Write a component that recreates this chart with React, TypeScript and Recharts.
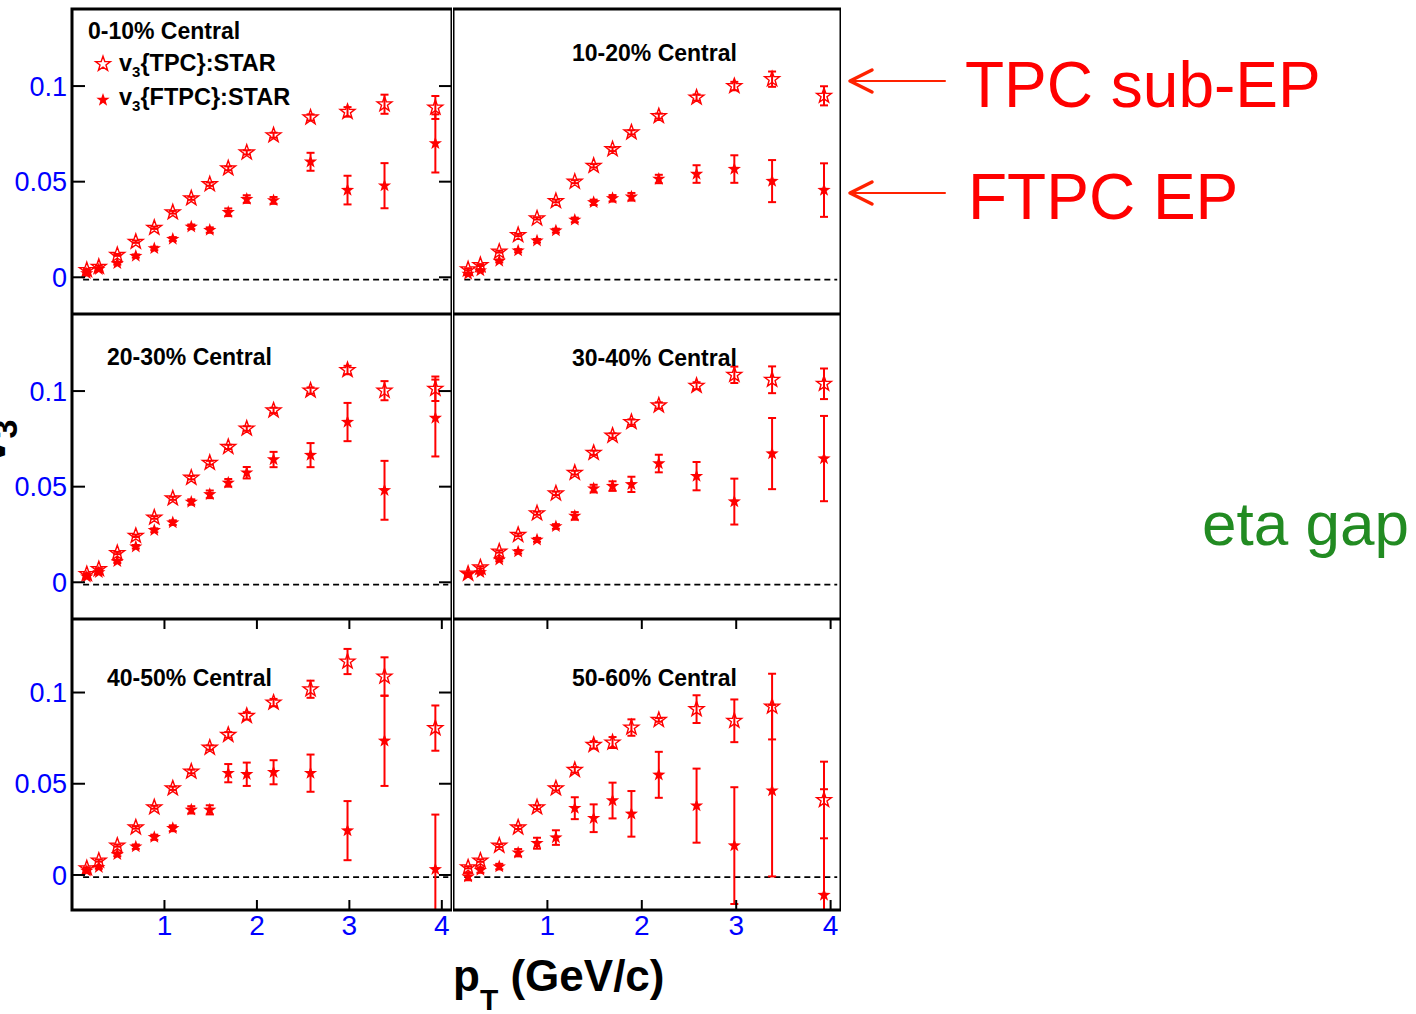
import React from "react";
import {
  ScatterChart,
  Scatter,
  XAxis,
  YAxis,
  ErrorBar,
  ReferenceArea,
  ReferenceLine,
} from "recharts";

// pT bin centres (GeV/c), shared by every panel
const PT = [0.16, 0.29, 0.49, 0.69, 0.89, 1.09, 1.29, 1.49, 1.69, 1.89, 2.18, 2.58, 2.98, 3.38, 3.93];

const X_TICKS = [1, 2, 3, 4];
const Y_TICKS = [0, 0.05, 0.1];

const CENTRALITY = ["0-10%", "10-20%", "20-30%", "30-40%", "40-50%", "50-60%"];

// v3{TPC} (open stars) and v3{FTPC} (filled stars)
const TPC_0_10 = [0.0038, 0.0055, 0.0117, 0.0186, 0.0259, 0.034, 0.0413, 0.0487, 0.057, 0.0653, 0.0743, 0.0836, 0.0865, 0.0905, 0.0888];
const TPC_ERR_0_10 = [0.0005, 0.0005, 0.0005, 0.0006, 0.0006, 0.0007, 0.0008, 0.0009, 0.001, 0.0011, 0.0013, 0.0016, 0.0025, 0.005, 0.006];
const FTPC_0_10 = [0.002, 0.0042, 0.0073, 0.0111, 0.0151, 0.02, 0.0264, 0.0247, 0.034, 0.0409, 0.0402, 0.0604, 0.0456, 0.0479, 0.07];
const FTPC_ERR_0_10 = [0.0006, 0.0006, 0.0007, 0.0008, 0.0009, 0.001, 0.0012, 0.0014, 0.002, 0.002, 0.0018, 0.0047, 0.0075, 0.0118, 0.0152];

const TPC_10_20 = [0.0042, 0.0064, 0.0134, 0.0221, 0.0308, 0.0399, 0.05, 0.0583, 0.067, 0.0758, 0.0843, 0.094, 0.1, 0.1036, 0.0949];
const TPC_ERR_10_20 = [0.0005, 0.0005, 0.0005, 0.0006, 0.0006, 0.0007, 0.0008, 0.0009, 0.001, 0.0011, 0.0013, 0.0016, 0.0022, 0.004, 0.005];
const FTPC_10_20 = [0.0017, 0.0035, 0.0085, 0.0139, 0.0191, 0.0244, 0.03, 0.0392, 0.0413, 0.0421, 0.0514, 0.054, 0.0566, 0.0503, 0.0456];
const FTPC_ERR_10_20 = [0.0006, 0.0006, 0.0007, 0.0008, 0.0009, 0.001, 0.0012, 0.0014, 0.0017, 0.002, 0.0022, 0.0046, 0.0072, 0.011, 0.014];

const TPC_20_30 = [0.0043, 0.0069, 0.0153, 0.0243, 0.0339, 0.0439, 0.0547, 0.0625, 0.0708, 0.0804, 0.0899, 0.1003, 0.111, 0.1002, 0.1012];
const TPC_ERR_20_30 = [0.0005, 0.0005, 0.0006, 0.0006, 0.0007, 0.0008, 0.0009, 0.001, 0.0011, 0.0012, 0.0014, 0.0016, 0.0022, 0.005, 0.0064];
const FTPC_20_30 = [0.0029, 0.0052, 0.0109, 0.0186, 0.0272, 0.0312, 0.042, 0.046, 0.052, 0.0573, 0.0642, 0.0665, 0.0838, 0.0481, 0.0859];
const FTPC_ERR_20_30 = [0.0006, 0.0006, 0.0008, 0.0009, 0.001, 0.0012, 0.0014, 0.002, 0.002, 0.003, 0.004, 0.0063, 0.01, 0.0154, 0.0201];

const TPC_30_40 = [0.0045, 0.0078, 0.0161, 0.0248, 0.0361, 0.0465, 0.0573, 0.0677, 0.0767, 0.0838, 0.0925, 0.1028, 0.1085, 0.1059, 0.1038];
const TPC_ERR_30_40 = [0.0005, 0.0006, 0.0006, 0.0007, 0.0008, 0.0009, 0.001, 0.0011, 0.0012, 0.0014, 0.0016, 0.0018, 0.0043, 0.007, 0.008];
const FTPC_30_40 = [0.0043, 0.0052, 0.0118, 0.016, 0.0222, 0.0292, 0.0347, 0.049, 0.0503, 0.0512, 0.0621, 0.0555, 0.0422, 0.0673, 0.0647];
const FTPC_ERR_30_40 = [0.0006, 0.0007, 0.0008, 0.0009, 0.001, 0.0012, 0.002, 0.002, 0.0025, 0.004, 0.0046, 0.0074, 0.012, 0.0186, 0.0223];

const TPC_40_50 = [0.0037, 0.0079, 0.0161, 0.0261, 0.0371, 0.0475, 0.0567, 0.0698, 0.0768, 0.0872, 0.0945, 0.1018, 0.117, 0.1088, 0.0805];
const TPC_ERR_40_50 = [0.0005, 0.0006, 0.0006, 0.0007, 0.0008, 0.0009, 0.001, 0.0012, 0.0015, 0.002, 0.002, 0.0047, 0.0069, 0.0105, 0.0124];
const FTPC_40_50 = [0.0022, 0.0042, 0.0113, 0.0155, 0.0207, 0.0256, 0.0357, 0.0357, 0.0558, 0.0552, 0.0563, 0.0558, 0.0243, 0.0735, 0.0031];
const FTPC_ERR_40_50 = [0.0007, 0.0008, 0.001, 0.0012, 0.0014, 0.0016, 0.002, 0.0025, 0.005, 0.0064, 0.0066, 0.0102, 0.0162, 0.0247, 0.03];

const TPC_50_60 = [0.0042, 0.0079, 0.0161, 0.0261, 0.0371, 0.0475, 0.0576, 0.0713, 0.0726, 0.0808, 0.085, 0.0909, 0.0845, 0.0923, 0.0411];
const TPC_ERR_50_60 = [0.0006, 0.0007, 0.0008, 0.0009, 0.001, 0.0012, 0.0015, 0.002, 0.003, 0.0045, 0.001, 0.0076, 0.0117, 0.018, 0.021];
const FTPC_50_60 = [-0.0009, 0.0027, 0.0046, 0.0122, 0.0174, 0.0205, 0.0366, 0.0311, 0.0408, 0.0335, 0.0549, 0.038, 0.0161, 0.0462, -0.011];
const FTPC_ERR_50_60 = [0.002, 0.0015, 0.0015, 0.002, 0.003, 0.004, 0.006, 0.0076, 0.0098, 0.0125, 0.0126, 0.0203, 0.032, 0.047, 0.058];

const PANELS = [
  { tpc: TPC_0_10, tpcErr: TPC_ERR_0_10, ftpc: FTPC_0_10, ftpcErr: FTPC_ERR_0_10 },
  { tpc: TPC_10_20, tpcErr: TPC_ERR_10_20, ftpc: FTPC_10_20, ftpcErr: FTPC_ERR_10_20 },
  { tpc: TPC_20_30, tpcErr: TPC_ERR_20_30, ftpc: FTPC_20_30, ftpcErr: FTPC_ERR_20_30 },
  { tpc: TPC_30_40, tpcErr: TPC_ERR_30_40, ftpc: FTPC_30_40, ftpcErr: FTPC_ERR_30_40 },
  { tpc: TPC_40_50, tpcErr: TPC_ERR_40_50, ftpc: FTPC_40_50, ftpcErr: FTPC_ERR_40_50 },
  { tpc: TPC_50_60, tpcErr: TPC_ERR_50_60, ftpc: FTPC_50_60, ftpcErr: FTPC_ERR_50_60 },
];

// layout
const X_DOMAIN: [number, number] = [0, 4.11];
const Y_DOMAIN: [number, number] = [-0.0192, 0.1403];
const COL_LEFT = [72, 453];
const COL_WIDTH = [380, 388];
const ROW_TOP = [9, 314, 619];
const ROW_HEIGHT = [305, 305, 291];
const Y_AXIS_W = 72;
const X_AXIS_H = 40;
const RED = "#ff0000";
const BLUE = "#0000ff";
const FONT = "'Liberation Sans', Arial, Helvetica, sans-serif";

// label positions (page coords) for the centrality tags
const LABEL_POS = [
  [88, 39],
  [572, 61],
  [107, 365],
  [572, 366],
  [107, 686],
  [572, 686],
];

function starPath(cx: number, cy: number, R: number) {
  const r = R * 0.4;
  let d = "";
  for (let i = 0; i < 10; i++) {
    const rad = i % 2 === 0 ? R : r;
    const a = -Math.PI / 2 + (i * Math.PI) / 5;
    d += (i === 0 ? "M" : "L") + (cx + rad * Math.cos(a)).toFixed(2) + "," + (cy + rad * Math.sin(a)).toFixed(2);
  }
  return d + "Z";
}

const openStar = (p: any) => (
  <path d={starPath(p.cx, p.cy, 7.8)} fill="none" stroke={RED} strokeWidth={1.4} />
);
const filledStar = (p: any) => <path d={starPath(p.cx, p.cy, 7)} fill={RED} stroke="none" />;

const XTick = (props: any) => {
  const { x, y, payload, plotH, showLabel } = props;
  return (
    <g>
      <line x1={x} y1={y} x2={x} y2={y - 10} stroke="#000" strokeWidth={2} />
      <line x1={x} y1={y - plotH} x2={x} y2={y - plotH + 10} stroke="#000" strokeWidth={2} />
      {showLabel && (
        <text x={x} y={y + 25} textAnchor="middle" fill={BLUE} fontSize={28} fontFamily={FONT}>
          {payload.value}
        </text>
      )}
    </g>
  );
};

const YTick = (props: any) => {
  const { x, y, payload, plotW, showLabel } = props;
  return (
    <g>
      <line x1={x} y1={y} x2={x + 13} y2={y} stroke="#000" strokeWidth={2} />
      <line x1={x + plotW - 13} y1={y} x2={x + plotW} y2={y} stroke="#000" strokeWidth={2} />
      {showLabel && (
        <text x={x - 5} y={y} dy="0.36em" textAnchor="end" fill={BLUE} fontSize={27} fontFamily={FONT}>
          {payload.value}
        </text>
      )}
    </g>
  );
};

const Panel = ({ idx }: { idx: number }) => {
  const row = Math.floor(idx / 2);
  const col = idx % 2;
  const p = PANELS[idx];
  const tpcData = PT.map((x, i) => ({ x, y: p.tpc[i], err: p.tpcErr[i] }));
  const ftpcData = PT.map((x, i) => ({ x, y: p.ftpc[i], err: p.ftpcErr[i] }));

  const plotW = COL_WIDTH[col];
  const plotH = ROW_HEIGHT[row];
  const yW = col === 0 ? Y_AXIS_W : 0;
  const xH = row === 2 ? X_AXIS_H : 0;
  const marginTop = row === 0 ? ROW_TOP[0] : 0;

  return (
    <>
      {/* data layer, clipped to the frame like the original */}
      <div
        style={{
          position: "absolute",
          left: COL_LEFT[col],
          top: ROW_TOP[row],
          width: plotW,
          height: plotH,
          overflow: "hidden",
        }}
      >
        <ScatterChart width={plotW} height={plotH} margin={{ top: 0, right: 0, bottom: 0, left: 0 }}>
          <XAxis hide type="number" dataKey="x" domain={X_DOMAIN} allowDataOverflow />
          <YAxis hide type="number" dataKey="y" domain={Y_DOMAIN} allowDataOverflow />
          <ReferenceLine
            segment={[
              { x: 0.12, y: -0.0012 },
              { x: 4.07, y: -0.0012 },
            ]}
            stroke="#000"
            strokeWidth={1.6}
            strokeDasharray="6 4"
          />
          <Scatter name="v3{FTPC}:STAR" data={ftpcData} shape={filledStar} isAnimationActive={false}>
            <ErrorBar dataKey="err" direction="y" width={4} stroke={RED} strokeWidth={2} />
          </Scatter>
          <Scatter name="v3{TPC}:STAR" data={tpcData} shape={openStar} isAnimationActive={false}>
            <ErrorBar dataKey="err" direction="y" width={4} stroke={RED} strokeWidth={2} />
          </Scatter>
        </ScatterChart>
      </div>

      {/* frame, ticks and tick labels */}
      <div style={{ position: "absolute", left: COL_LEFT[col] - yW, top: ROW_TOP[row] - marginTop }}>
        <ScatterChart
          width={yW + plotW}
          height={marginTop + plotH + xH}
          margin={{ top: marginTop, right: 0, bottom: 0, left: 0 }}
        >
          <XAxis
            type="number"
            dataKey="x"
            domain={X_DOMAIN}
            ticks={X_TICKS}
            interval={0}
            allowDataOverflow
            height={xH}
            axisLine={false}
            tickLine={false}
            tickSize={0}
            tickMargin={0}
            tick={(t: any) => <XTick {...t} plotH={plotH} showLabel={row === 2} />}
          />
          <YAxis
            type="number"
            dataKey="y"
            domain={Y_DOMAIN}
            ticks={Y_TICKS}
            interval={0}
            allowDataOverflow
            width={yW}
            axisLine={false}
            tickLine={false}
            tickSize={0}
            tickMargin={0}
            tick={(t: any) => <YTick {...t} plotW={plotW} showLabel={col === 0} />}
          />
          <ReferenceArea
            x1={X_DOMAIN[0]}
            x2={X_DOMAIN[1]}
            y1={Y_DOMAIN[0]}
            y2={Y_DOMAIN[1]}
            fill="none"
            fillOpacity={0}
            stroke="#000"
            strokeWidth={3}
            ifOverflow="visible"
          />
        </ScatterChart>
      </div>
    </>
  );
};

const Arrow = ({ y }: { y: number }) => (
  <g stroke="#ff2200" fill="none" strokeLinecap="round" strokeLinejoin="round">
    <line x1={850} y1={y} x2={945} y2={y} strokeWidth={2} />
    <polyline points={`872,${y - 11} 850,${y} 872,${y + 11}`} strokeWidth={3.5} />
  </g>
);

export default function App() {
  return (
    <div style={{ position: "absolute", left: 0, top: 0, width: 1416, height: 1014, background: "#fff", overflow: "hidden" }}>
      {CENTRALITY.map((_, i) => (
        <Panel key={i} idx={i} />
      ))}
      <svg
        width={1416}
        height={1014}
        style={{ position: "absolute", left: 0, top: 0, pointerEvents: "none" }}
        fontFamily={FONT}
      >
        {CENTRALITY.map((c, i) => (
          <text key={c} x={LABEL_POS[i][0]} y={LABEL_POS[i][1]} fontSize={23} fontWeight="bold" fill="#000">
            {c} Central
          </text>
        ))}

        {/* legend in the first panel */}
        <path d={starPath(103, 64, 7.8)} fill="none" stroke={RED} strokeWidth={1.4} />
        <text x={119} y={71} fontSize={23.5} fontWeight="bold" fill="#000">
          v<tspan fontSize={15} dy={6}>3</tspan>
          <tspan dy={-6}>{"{TPC}:STAR"}</tspan>
        </text>
        <path d={starPath(103, 100, 7)} fill={RED} />
        <text x={119} y={105} fontSize={23.5} fontWeight="bold" fill="#000">
          v<tspan fontSize={15} dy={6}>3</tspan>
          <tspan dy={-6}>{"{FTPC}:STAR"}</tspan>
        </text>

        {/* axis titles */}
        <text transform="translate(5,464) rotate(-90)" fontSize={46} fontWeight="bold" fill="#000">
          v<tspan fontSize={34} dy={12}>3</tspan>
        </text>
        <text x={453} y={991} fontSize={44} fontWeight="bold" fill="#000">
          p<tspan fontSize={30} dy={19}>T</tspan>
          <tspan fontSize={44} dy={-19}>{" (GeV/c)"}</tspan>
        </text>

        {/* annotations */}
        <Arrow y={81} />
        <Arrow y={193} />
        <text x={965} y={107} fontSize={64} fill={RED}>
          TPC sub-EP
        </text>
        <text x={968} y={219} fontSize={64} fill={RED}>
          FTPC EP
        </text>
        <text x={1202} y={545} fontSize={62} fill="#228b22">
          eta gap
        </text>
      </svg>
    </div>
  );
}
